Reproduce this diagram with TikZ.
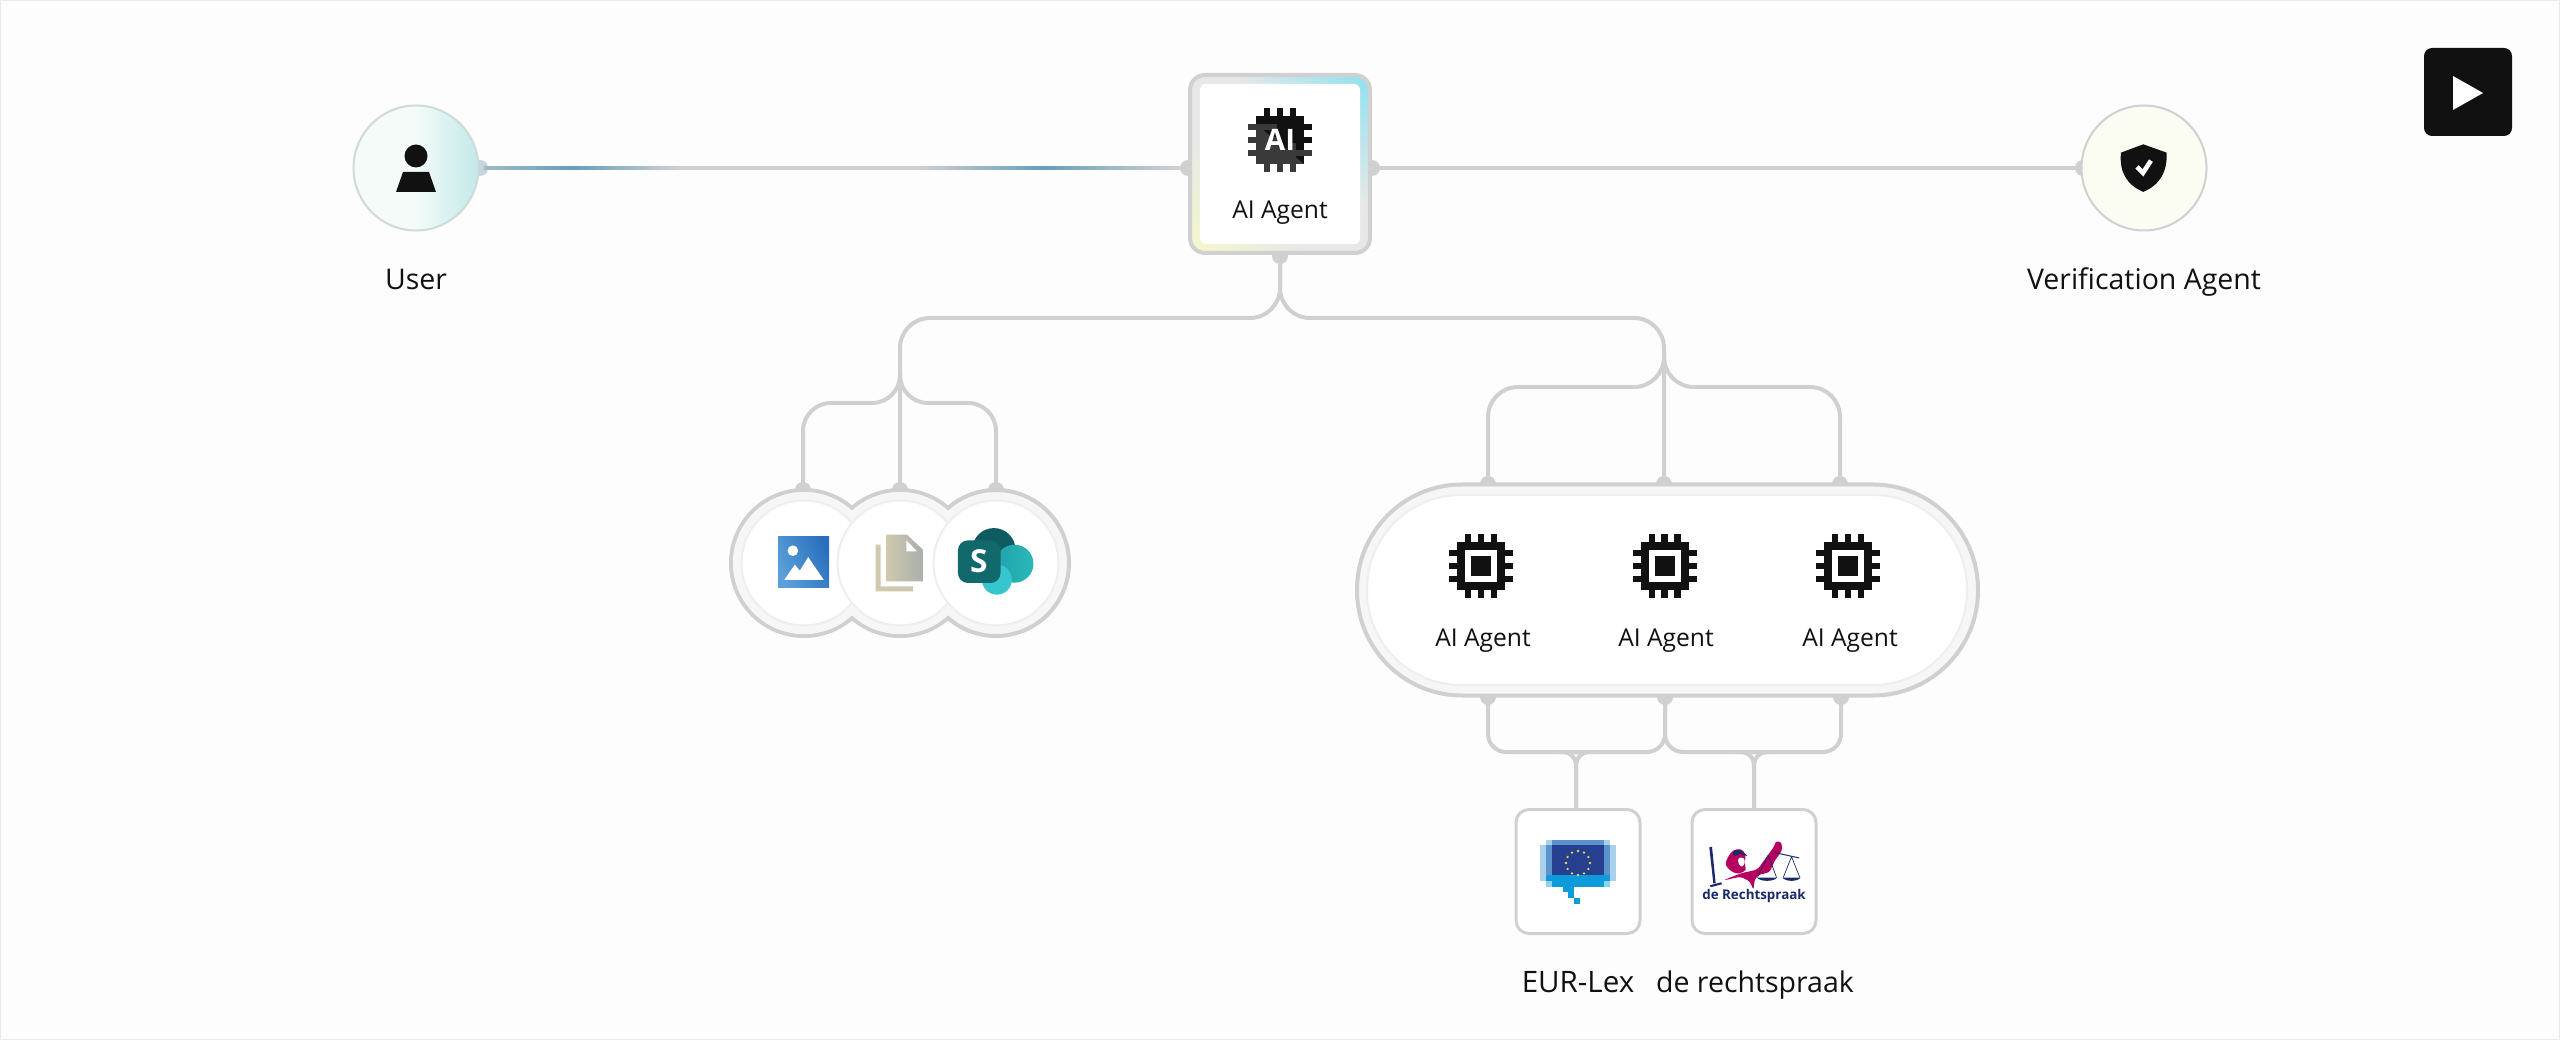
\documentclass[tikz,border=0pt]{standalone}
\usepackage{fontspec}
\usetikzlibrary{calc}
\setmainfont{Open Sans}
\newdimen\px \px=0.01cm
\definecolor{bgc}{HTML}{FDFDFD}
\definecolor{edgec}{HTML}{E9E9E9}
\definecolor{linec}{HTML}{D0D0D0}
\definecolor{ringc}{HTML}{F6F6F6}
\definecolor{ringb}{HTML}{EEEEEE}
\definecolor{inkc}{HTML}{111111}
\definecolor{flowc}{HTML}{659FBA}
\definecolor{ay}{HTML}{F3F6CE}
\definecolor{ag}{HTML}{E8E8E8}
\definecolor{ac}{HTML}{97E2EE}
\definecolor{navy}{HTML}{1B2A6B}
\definecolor{rose}{HTML}{B5005F}
\definecolor{usera}{HTML}{F4FBF9}
\definecolor{userb}{HTML}{C2E8EA}
\definecolor{portb}{HTML}{C3D5DE}
\definecolor{userl}{HTML}{CFDAD9}
\pgfdeclareverticalshading{aibox}{100bp}{color(0bp)=(ay); color(18bp)=(ay); color(38bp)=(ag); color(58bp)=(ag); color(82bp)=(ac); color(100bp)=(ac)}
\pgfdeclarehorizontalshading{userfill}{100bp}{color(0bp)=(usera); color(50bp)=(usera); color(75bp)=(userb); color(100bp)=(userb)}
\tikzset{
  conn/.style={draw=linec,line width=4\px},
  portdot/.style={circle,fill=linec,minimum size=16\px,inner sep=0pt,outer sep=0pt},
  lbl/.style={text=inkc,inner sep=0pt,anchor=base,font=\fontsize{8.1}{10}\selectfont},
  agentlbl/.style={text=inkc,inner sep=0pt,anchor=base,font=\fontsize{7.0}{9}\selectfont},
  hubouter/.style={circle,draw=linec,fill=ringc,line width=4\px,minimum size=146\px,inner sep=0pt,outer sep=0pt},
  hubinner/.style={circle,draw=ringb,fill=white,line width=2\px,minimum size=125\px,inner sep=0pt,outer sep=0pt},
  srcbox/.style={rectangle,rounded corners=13\px,draw=linec,fill=white,line width=3\px,minimum width=124\px,minimum height=124\px,inner sep=0pt,outer sep=0pt},
  chipicon/.pic={
    \fill[inkc] (-24,-24) rectangle (24,24);
    \foreach \c in {-12.8,0,12.8}{
      \fill[inkc] (\c-3.2,-32) rectangle (\c+3.2,32);
      \fill[inkc] (-32,\c-3.2) rectangle (32,\c+3.2);
    }
    \fill[white] (-16,-16) rectangle (16,16);
    \fill[inkc] (-10,-10) rectangle (10,10);
  }
}
\begin{document}
\begin{tikzpicture}[x=0.01cm,y=-0.01cm]
\useasboundingbox (0,0) rectangle (2560,1040);
\fill[bgc] (0,0) rectangle (2560,1040);
\draw[edgec,line width=3\px] (0,0) rectangle (2560,1040);

% ports
\node[portdot,fill=portb] (userE) at (480,168) {};
\node[portdot] (aiW) at (1188,168) {};
\node[portdot] (aiE) at (1372,168) {};
\node[portdot] (verifW) at (2083,168) {};
\node[portdot] (aiS) at (1280,256) {};
\node[portdot] (h1N) at (803,490) {};
\node[portdot] (h2N) at (900,490) {};
\node[portdot] (h3N) at (996,490) {};
\node[portdot] (p1N) at (1488,484) {};
\node[portdot] (p2N) at (1664,484) {};
\node[portdot] (p3N) at (1840,484) {};
\node[portdot] (p1S) at (1488,697) {};
\node[portdot] (p2S) at (1665,697) {};
\node[portdot] (p3S) at (1841,697) {};
\coordinate (eurN) at (1576,810);
\coordinate (recN) at (1754,810);
\coordinate (busL) at (900,318);
\coordinate (busR) at (1664,318);
\coordinate (hubTap) at (900,372);
\coordinate (hubL) at (803,403);
\coordinate (hubR) at (996,403);
\coordinate (poolTap) at (1664,356);
\coordinate (poolL) at (1488,387);
\coordinate (poolR) at (1840,387);
\coordinate (lowA) at (1488,752);
\coordinate (lowB) at (1665,752);
\coordinate (lowC) at (1841,752);

% connectors
\draw[conn] (userE.center) -- (aiW.center);
\shade[left color=flowc!45!linec,right color=flowc] (484,166.4) rectangle (573,169.6);
\shade[left color=flowc,right color=linec] (573,166.4) rectangle (680,169.6);
\shade[left color=linec,right color=flowc] (916,166.4) rectangle (1043,169.6);
\shade[left color=flowc,right color=linec] (1043,166.4) rectangle (1176,169.6);
\draw[conn] (aiE.center) -- (verifW.center);
\draw[conn,rounded corners=30\px] (aiS.center) |- (busL) -- (h2N.center);
\draw[conn,rounded corners=30\px] (aiS.center) |- (busR) -- (p2N.center);
\draw[conn,rounded corners=28\px] (hubTap) |- (hubL) -- (h1N.center);
\draw[conn,rounded corners=28\px] (hubTap) |- (hubR) -- (h3N.center);
\draw[conn,rounded corners=30\px] (poolTap) |- (poolL) -- (p1N.center);
\draw[conn,rounded corners=30\px] (poolTap) |- (poolR) -- (p3N.center);
\draw[conn,rounded corners=18\px] (p1S.center) -- (lowA) -- (lowB) -- (p2S.center);
\draw[conn,rounded corners=18\px] (p3S.center) -- (lowC) -- (lowB) -- (p2S.center);
\draw[conn,rounded corners=13\px] (eurN) |- (1556,752);
\draw[conn,rounded corners=13\px] (eurN) |- (1596,752);
\draw[conn,rounded corners=13\px] (recN) |- (1734,752);
\draw[conn,rounded corners=13\px] (recN) |- (1774,752);

% user
\node[circle,draw=userl,line width=2\px,minimum size=125\px,inner sep=0pt,outer sep=0pt,shade,shading=userfill] (user) at (416,168) {};
\fill[inkc] (416,156) circle[radius=11.5];
\fill[inkc] (403,172) -- (429,172) -- (436,192) -- (396,192) -- cycle;
\node[lbl] (userL) at (416,289.5) {User};

% verification
\definecolor{vf}{HTML}{FBFCF2}
\node[circle,draw=linec,fill=vf,line width=2\px,minimum size=125\px,inner sep=0pt,outer sep=0pt] (verif) at (2144,168) {};
\begin{scope}[shift={(2105,130)},x=0.003333cm,y=-0.003333cm]
\fill[inkc] (115,43) -- (185,68) .. controls (188,125) and (165,165) .. (115,186) .. controls (65,165) and (42,125) .. (48,68) -- cycle;
\draw[white,line width=4.6\px] (96,111) -- (114,129) -- (138,92);
\end{scope}
\node[lbl] (verifL) at (2144,289.5) {Verification Agent};

% play button
\node[rectangle,rounded corners=8\px,fill=inkc,minimum width=88\px,minimum height=88\px,inner sep=0pt,outer sep=0pt] (play) at (2468,92) {};
\fill[white] (2453,76) -- (2483,93) -- (2453,110) -- cycle;

% AI agent box
\node[rectangle,rounded corners=15\px,draw=linec,line width=4\px,shade,shading=aibox,shading angle=-45,minimum width=180\px,minimum height=178\px,inner sep=0pt,outer sep=0pt] (aiouter) at (1280,164) {};
\node[rectangle,rounded corners=6\px,fill=white,minimum width=160\px,minimum height=160\px,inner sep=0pt,outer sep=0pt] (aiinner) at (1280,164) {};
\begin{scope}[shift={(1280,140)}]
\definecolor{chipg}{HTML}{3A3A3A}
\fill[inkc] (-24,-24) rectangle (24,24);
\foreach \c in {-12.8,0,12.8}{
  \fill[inkc] (\c-3.2,-32) rectangle (\c+3.2,0);
  \fill[chipg] (\c-3.2,0) rectangle (\c+3.2,32);
  \fill[chipg] (-32,\c-3.2) rectangle (0,\c+3.2);
}
\fill[inkc] (0,-16) rectangle (32,-9.6);
\fill[inkc] (0,-3.2) rectangle (32,3.2);
\fill[chipg] (0,9.6) rectangle (32,16);
\fill[chipg] (-24,-16) -- (24,24) -- (-24,24) -- cycle;
\node[text=white,inner sep=0pt,font=\fontsize{8.4}{10}\selectfont\bfseries] (aiT) at (0,0) {AI};
\end{scope}
\node[agentlbl] (aiL) at (1280,218.5) {AI Agent};

% hub circles
\node[hubouter] (h1o) at (804,563) {};
\node[hubouter] (h2o) at (900,563) {};
\node[hubouter] (h3o) at (996,563) {};
\fill[ringc] (804,563) circle[radius=71];
\fill[ringc] (900,563) circle[radius=71];
\node[hubinner] (h1i) at (804,563) {};
\node[hubinner] (h2i) at (900,563) {};
\node[hubinner] (h3i) at (996,563) {};
\begin{scope}[shift={(700,370)},x=0.003333cm,y=-0.003333cm]
% image icon
\definecolor{ima}{HTML}{5AA0D8}\definecolor{imb}{HTML}{2A6FBE}
\shade[left color=ima,right color=imb,shading angle=115] (235,500) rectangle (388,653);
\fill[white] (279,543) circle[radius=16];
\fill[white] (253,631) -- (285,585) -- (300,603) -- (325,562) -- (372,631) -- cycle;
% document icon
\definecolor{doca}{HTML}{CFC9AE}\definecolor{docb}{HTML}{A9AFAB}
\fill[doca] (528,525) -- (543,525) -- (543,650) -- (640,650) -- (640,665) -- (528,665) -- cycle;
\shade[left color=doca,right color=docb] (560,495) -- (622,495) -- (670,540) -- (670,635) -- (560,635) -- cycle;
\fill[white] (620,512) -- (652,545) -- (620,545) -- cycle;
% sharepoint icon
\definecolor{spa}{HTML}{0E5C5F}\definecolor{spb}{HTML}{1FA3AB}\definecolor{spc}{HTML}{2BB8B8}\definecolor{spd}{HTML}{37C6D0}\definecolor{spe}{HTML}{11696B}
\fill[spa] (883,540) circle[radius=65];
\shade[left color=spb,right color=spc] (945,582) circle[radius=57];
\fill[spd] (892,630) circle[radius=45];
\fill[spe,rounded corners=10\px] (775,512) rectangle (903,640);
\node[text=white,inner sep=0pt,font=\fontsize{9}{10}\selectfont\bfseries] (spS) at (838,576) {S};
\end{scope}

% agent pool
\node[rectangle,rounded corners=105\px,draw=linec,fill=ringc,line width=4\px,minimum width=621\px,minimum height=211\px,inner sep=0pt,outer sep=0pt] (poolO) at (1667.5,590) {};
\node[rectangle,rounded corners=94\px,draw=ringb,fill=white,line width=2\px,minimum width=600\px,minimum height=190\px,inner sep=0pt,outer sep=0pt] (poolI) at (1667,590) {};
\pic at (1481,566) {chipicon};
\pic at (1664.5,566) {chipicon};
\pic at (1848,566) {chipicon};
\node[agentlbl] (a1L) at (1483,646.5) {AI Agent};
\node[agentlbl] (a2L) at (1666,646.5) {AI Agent};
\node[agentlbl] (a3L) at (1850,646.5) {AI Agent};

% source boxes
\node[srcbox] (eur) at (1578,871.5) {};
\node[srcbox] (rec) at (1754,871.5) {};
\begin{scope}[shift={(1480,680)},x=0.003333cm,y=-0.003333cm]
\definecolor{eua}{HTML}{ABD0EA}\definecolor{eub}{HTML}{5B93CB}\definecolor{euc}{HTML}{26408F}\definecolor{eud}{HTML}{0D9BDC}\definecolor{eue}{HTML}{8FD3EE}
\fill[eua] (180,497) rectangle (408,603);
\fill[eua] (198,480) rectangle (390,497);
\fill[eub] (198,497) rectangle (390,585);
\fill[eub] (216,480) rectangle (372,497);
\fill[eue] (198,603) rectangle (390,621);
\fill[eud] (198,585) rectangle (390,603);
\fill[eud] (216,603) rectangle (372,621);
\fill[euc] (216,497) rectangle (372,585);
\fill[eud] (248,621) rectangle (283,638);
\fill[eud] (265,638) rectangle (283,655);
\fill[eud] (283,655) rectangle (300,672);
\end{scope}
\definecolor{star}{HTML}{EFD84A}
\foreach \a in {0,30,...,330}{\fill[star] ($(1578,863)+(\a:12)$) circle[radius=1.3];}
\begin{scope}[shift={(1700,830)},x=0.003333cm,y=-0.003333cm]
% sword
\fill[navy] (28,52) -- (36,50) -- (47,160) -- (40,160) -- cycle;
\fill[navy] (30,166) -- (64,157) -- (66,163) -- (32,172) -- cycle;
% figure
\fill[rose] plot[smooth cycle,tension=0.6] coordinates {(78,105) (85,80) (100,62) (122,58) (136,74) (134,100) (137,120) (118,130) (98,126)};
\fill[rose] plot[smooth cycle,tension=0.5] coordinates {(75,150) (125,130) (170,118) (192,92) (222,50) (228,36) (243,38) (245,62) (225,92) (208,125) (178,135) (165,150) (160,176) (148,155) (120,142)};
\fill[white] plot[smooth cycle,tension=0.7] coordinates {(116,86) (130,84) (134,98) (126,110) (116,100)};
\fill[navy] plot[smooth cycle,tension=0.6] coordinates {(98,66) (118,60) (142,78) (120,72) (104,78)};
% scales
\draw[navy,line width=1\px] (225,68) -- (298,84);
\draw[navy,line width=0.7\px] (205,75) -- (172,143) (205,75) -- (230,143);
\draw[navy,line width=0.7\px] (275,80) -- (250,143) (275,80) -- (300,143);
\fill[navy] (172,143) .. controls (180,156) and (222,156) .. (232,143) -- cycle;
\fill[navy] (248,143) .. controls (256,156) and (294,156) .. (302,143) -- cycle;
\end{scope}
\node[text=navy,inner sep=0pt,font=\fontsize{3.8}{5}\selectfont\bfseries] (recT) at (1754,896) {de Rechtspraak};
\node[lbl,font=\fontsize{8.4}{10}\selectfont] (eurL) at (1578,992) {EUR-Lex};
\node[lbl] (recL) at (1755,992) {de rechtspraak};
\end{tikzpicture}
\end{document}
